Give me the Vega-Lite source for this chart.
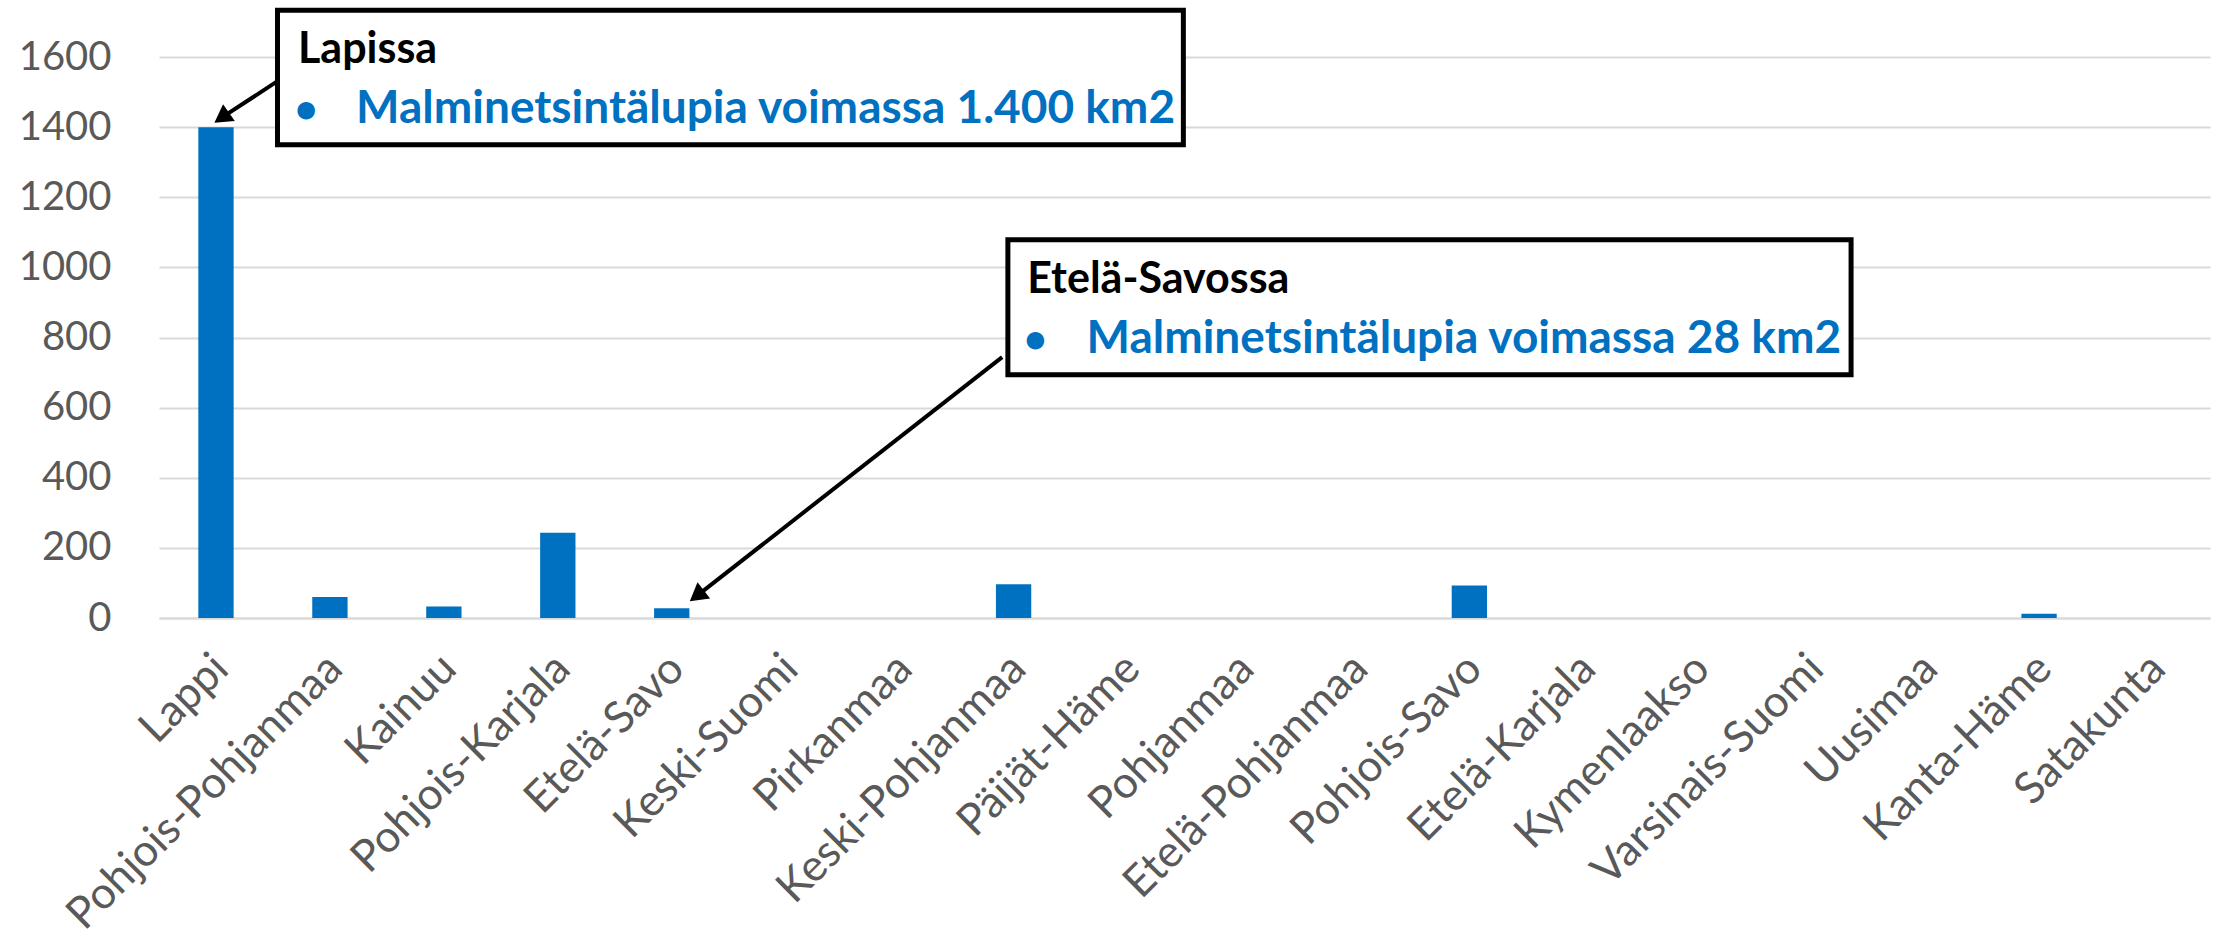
{
  "$schema": "https://vega.github.io/schema/vega-lite/v6.json",
  "autosize": {"type": "none"},
  "width": 2051,
  "height": 561,
  "padding": {"left": 159, "top": 57, "right": 11, "bottom": 325},
  "background": "white",
  "config": {"view": {"stroke": null}, "font": "Lato"},
  "datasets": {
    "bars": [
      {"region": "Lappi", "value": 1400},
      {"region": "Pohjois-Pohjanmaa", "value": 60},
      {"region": "Kainuu", "value": 33},
      {"region": "Pohjois-Karjala", "value": 243},
      {"region": "Etelä-Savo", "value": 28},
      {"region": "Keski-Suomi", "value": 0},
      {"region": "Pirkanmaa", "value": 0},
      {"region": "Keski-Pohjanmaa", "value": 96},
      {"region": "Päijät-Häme", "value": 0},
      {"region": "Pohjanmaa", "value": 0},
      {"region": "Etelä-Pohjanmaa", "value": 0},
      {"region": "Pohjois-Savo", "value": 93},
      {"region": "Etelä-Karjala", "value": 0},
      {"region": "Kymenlaakso", "value": 0},
      {"region": "Varsinais-Suomi", "value": 0},
      {"region": "Uusimaa", "value": 0},
      {"region": "Kanta-Häme", "value": 12},
      {"region": "Satakunta", "value": 0}
    ],
    "boxes": [
      {"box": "Lapissa", "x1": 1.04, "x2": 8.99, "y1": 1350, "y2": 1733},
      {"box": "Etelä-Savossa", "x1": 7.45, "x2": 14.85, "y1": 694, "y2": 1079}
    ],
    "arrows": [
      {"arrow": "a1", "x1": 1.04, "y1": 1531, "x2": 0.55, "y2": 1427},
      {"arrow": "a2", "x1": 7.4, "y1": 744, "x2": 4.72, "y2": 63}
    ],
    "titles": [
      {"label": "Lapissa", "x": 1.22, "y": 1582},
      {"label": "Etelä-Savossa", "x": 7.62, "y": 926}
    ],
    "bodies": [
      {"bullet": "•", "bx": 1.19, "label": "Malminetsintälupia voimassa 1.400 km2", "x": 1.73, "y": 1411},
      {"bullet": "•", "bx": 7.59, "label": "Malminetsintälupia voimassa 28 km2", "x": 8.14, "y": 755}
    ]
  },
  "layer": [
    {
      "data": {"name": "bars"},
      "mark": {"type": "bar", "color": "#0070C0"},
      "encoding": {
        "x": {
          "field": "region", "type": "nominal", "sort": null, "title": null,
          "scale": {"paddingInner": 0.69, "paddingOuter": 0.345},
          "axis": {"labelAngle": -45, "labelFontSize": 44, "labelColor": "#595959", "labelFont": "Lato", "labelLimit": 0,
                   "ticks": false, "domainColor": "#d9d9d9", "domainWidth": 2, "labelPadding": 28, "labelOffset": -10}
        },
        "y": {
          "field": "value", "type": "quantitative", "title": null,
          "scale": {"domain": [0, 1600], "nice": false},
          "axis": {"values": [0, 200, 400, 600, 800, 1000, 1200, 1400, 1600], "format": "d",
                   "labelFontSize": 40, "labelColor": "#595959", "labelFont": "Lato", "domain": false, "ticks": false,
                   "labelPadding": 48, "gridColor": "#d9d9d9", "gridWidth": 2}
        }
      }
    },
    {
      "data": {"name": "boxes"},
      "mark": {"type": "rect", "fill": "white", "stroke": "black", "strokeWidth": 5},
      "encoding": {
        "x": {"field": "x1", "type": "quantitative", "title": null, "scale": {"domain": [0, 18], "nice": false, "zero": false}, "axis": null},
        "x2": {"field": "x2"},
        "y": {"field": "y1", "type": "quantitative", "title": null},
        "y2": {"field": "y2"}
      }
    },
    {
      "data": {"name": "arrows"},
      "mark": {"type": "rule", "stroke": "black", "strokeWidth": 4},
      "encoding": {
        "x": {"field": "x1", "type": "quantitative", "title": null, "scale": {"domain": [0, 18], "nice": false, "zero": false}, "axis": null},
        "x2": {"field": "x2"},
        "y": {"field": "y1", "type": "quantitative", "title": null},
        "y2": {"field": "y2"}
      }
    },
    {
      "data": {"name": "arrows"},
      "transform": [{"filter": "datum.arrow == 'a1'"}],
      "mark": {"type": "point", "shape": "triangle-up", "filled": true, "color": "black", "size": 420, "angle": 235, "opacity": 1},
      "encoding": {
        "x": {"field": "x2", "type": "quantitative", "title": null, "scale": {"domain": [0, 18], "nice": false, "zero": false}, "axis": null},
        "y": {"field": "y2", "type": "quantitative", "title": null}
      }
    },
    {
      "data": {"name": "arrows"},
      "transform": [{"filter": "datum.arrow == 'a2'"}],
      "mark": {"type": "point", "shape": "triangle-up", "filled": true, "color": "black", "size": 420, "angle": 232, "opacity": 1},
      "encoding": {
        "x": {"field": "x2", "type": "quantitative", "title": null, "scale": {"domain": [0, 18], "nice": false, "zero": false}, "axis": null},
        "y": {"field": "y2", "type": "quantitative", "title": null}
      }
    },
    {
      "data": {"name": "titles"},
      "mark": {"type": "text", "align": "left", "baseline": "alphabetic", "fontSize": 43, "fontWeight": "bold", "color": "black", "font": "Lato"},
      "encoding": {
        "x": {"field": "x", "type": "quantitative", "title": null, "scale": {"domain": [0, 18], "nice": false, "zero": false}, "axis": null},
        "y": {"field": "y", "type": "quantitative", "title": null},
        "text": {"field": "label"}
      }
    },
    {
      "data": {"name": "bodies"},
      "mark": {"type": "text", "align": "left", "baseline": "alphabetic", "fontSize": 46, "fontWeight": "bold", "color": "#0070C0", "font": "Lato"},
      "encoding": {
        "x": {"field": "x", "type": "quantitative", "title": null, "scale": {"domain": [0, 18], "nice": false, "zero": false}, "axis": null},
        "y": {"field": "y", "type": "quantitative", "title": null},
        "text": {"field": "label"}
      }
    },
    {
      "data": {"name": "bodies"},
      "mark": {"type": "text", "align": "left", "baseline": "alphabetic", "fontSize": 40, "fontWeight": "bold", "color": "#0070C0", "font": "Lato"},
      "encoding": {
        "x": {"field": "bx", "type": "quantitative", "title": null, "scale": {"domain": [0, 18], "nice": false, "zero": false}, "axis": null},
        "y": {"field": "y", "type": "quantitative", "title": null},
        "text": {"field": "bullet"}
      }
    }
  ],
  "resolve": {"scale": {"x": "independent"}}
}
